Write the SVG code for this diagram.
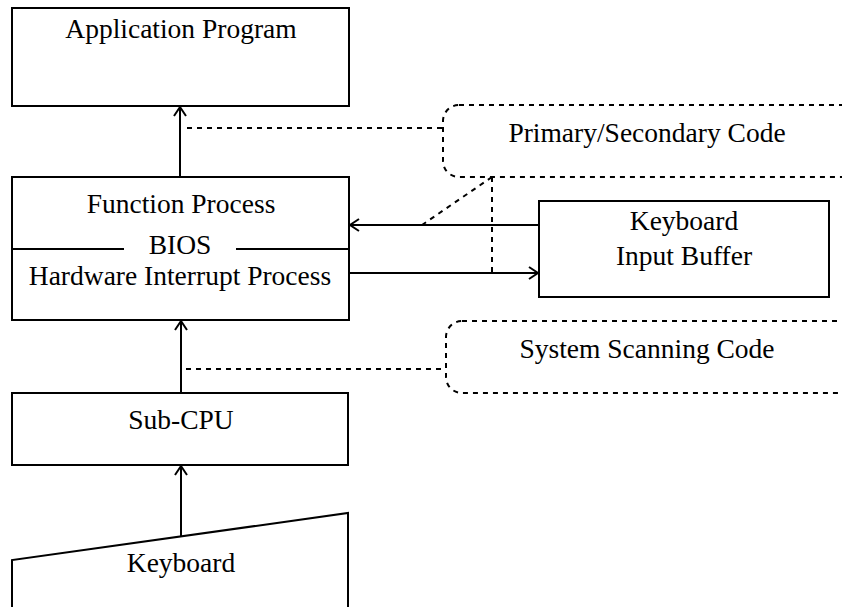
<svg xmlns="http://www.w3.org/2000/svg" width="842" height="607" viewBox="0 0 842 607">
<style>
.box{fill:#fff;stroke:#000;stroke-width:2}
.t{font-family:"Liberation Serif","Times New Roman",serif;font-size:27.5px;fill:#000;text-anchor:middle}
.ln{stroke:#000;stroke-width:2;fill:none}
.dot{stroke:#000;stroke-width:2;fill:none;stroke-dasharray:5 5}
.note{fill:#fff;stroke:#000;stroke-width:2;stroke-dasharray:5 5}
</style>
<defs>
<marker id="arr" markerUnits="userSpaceOnUse" markerWidth="20" markerHeight="20" viewBox="-12 -10 14 20" refX="0" refY="0" orient="auto">
<path d="M-9,-6 L0,0 L-9,6" fill="none" stroke="#000" stroke-width="2"/>
</marker>
</defs>
<g id="app">
<rect class="box" x="12" y="8" width="337" height="98"/>
<text class="t" x="181" y="38">Application Program</text>
</g>
<g id="bios">
<rect class="box" x="12" y="177" width="337" height="143"/>
<text class="t" x="181" y="213">Function Process</text>
<line class="ln" x1="12" y1="249" x2="124" y2="249"/>
<line class="ln" x1="236" y1="249" x2="349" y2="249"/>
<text class="t" x="180" y="254">BIOS</text>
<text class="t" x="180" y="285">Hardware Interrupt Process</text>
</g>
<g id="buffer">
<rect class="box" x="539" y="201" width="290" height="96"/>
<text class="t" x="684" y="230">Keyboard</text>
<text class="t" x="684" y="265">Input Buffer</text>
</g>
<g id="subcpu">
<rect class="box" x="12" y="393" width="336" height="72"/>
<text class="t" x="181" y="429">Sub-CPU</text>
</g>
<g id="keyboard">
<path class="box" d="M12,612 L12,560 L348,513 L348,612"/>
<text class="t" x="181" y="572">Keyboard</text>
</g>
<g id="primary">
<rect class="note" x="443" y="105" width="420" height="72" rx="16" ry="16"/>
<text class="t" x="647" y="142">Primary/Secondary Code</text>
</g>
<g id="scanning">
<rect class="note" x="446" y="321" width="420" height="72" rx="16" ry="16"/>
<text class="t" x="647" y="358">System Scanning Code</text>
</g>
<g id="connectors">
<line class="ln" x1="180" y1="177" x2="180" y2="107" marker-end="url(#arr)"/>
<line class="ln" x1="181" y1="393" x2="181" y2="321" marker-end="url(#arr)"/>
<line class="ln" x1="181" y1="537" x2="181" y2="466" marker-end="url(#arr)"/>
<line class="ln" x1="539" y1="225" x2="350" y2="225" marker-end="url(#arr)"/>
<line class="ln" x1="349" y1="273" x2="538" y2="273" marker-end="url(#arr)"/>
<line class="dot" x1="187" y1="128" x2="443" y2="128"/>
<line class="dot" x1="186" y1="369" x2="446" y2="369"/>
<line class="dot" x1="492" y1="177" x2="492" y2="273"/>
<line class="dot" x1="492" y1="177" x2="422" y2="225"/>
</g>
</svg>
